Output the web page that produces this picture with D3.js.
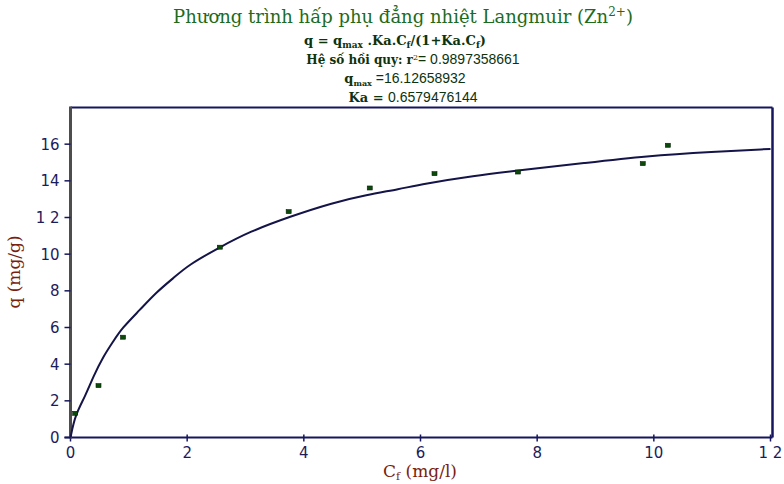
<!DOCTYPE html>
<html>
<head>
<meta charset="utf-8">
<script src="https://cdn.jsdelivr.net/npm/d3@7"></script>
<style>
  html, body { margin: 0; padding: 0; background: #fff; }
  svg { display: block; }
</style>
</head>
<body>
<svg id="chart" width="784" height="484"></svg>
<script>
// ---- data ----
const cfData = [0.08, 0.48, 0.90, 2.56, 3.74, 5.13, 6.24, 7.67, 9.81, 10.24];
const qData  = [1.32, 2.83, 5.47, 10.38, 12.32, 13.61, 14.39, 14.48, 14.94, 15.94];

const curveCf = [0.0, 0.08, 0.25, 0.39, 0.56, 0.73, 0.88, 1.19, 1.48, 1.76, 2.02, 2.56, 3.07, 3.76, 4.50, 5.07, 5.64, 6.04, 6.90, 7.75, 8.80, 9.87, 11.01, 12.00];
const curveQ  = [0.0, 1.23, 2.23, 3.32, 4.41, 5.23, 5.96, 6.96, 7.95, 8.68, 9.41, 10.38, 11.23, 12.05, 12.81, 13.23, 13.55, 13.83, 14.27, 14.59, 14.97, 15.36, 15.59, 15.74];

const xTicks = [0, 2, 4, 6, 8, 10, 12];
const xTickLabels = ["0", "2", "4", "6", "8", "10", "1 2"];
const yTicks = [0, 2, 4, 6, 8, 10, 12, 14, 16];
const yTickLabels = ["0", "2", "4", "6", "8", "10", "1 2", "14", "16"];

const svg = d3.select("#chart");
const x = d3.scaleLinear().domain([0, 12]).range([70.5, 770.5]);
const y = d3.scaleLinear().domain([0, 18]).range([437.5, 107.5]);

const navy = "#16165e";
const tickColor = "#1c1c5c";

// ---- titles ----
const serif = "'DejaVu Serif', 'Liberation Serif', serif";
const sans = "'Liberation Sans', Arial, sans-serif";
const green = "#1d6b1d";
const dark = "#0d330d";

svg.append("text").attr("x", 403).attr("y", 23).attr("text-anchor", "middle")
  .attr("font-family", serif).attr("font-size", 18).attr("fill", green)
  .html("Phương trình hấp phụ đẳng nhiệt Langmuir (Zn<tspan dy='-7' font-size='12'>2+</tspan><tspan dy='7'>)</tspan>");

const l2 = svg.append("text").attr("x", 395).attr("y", 45).attr("text-anchor", "middle")
  .attr("font-family", serif).attr("font-size", 13).attr("font-weight", "bold").attr("fill", dark);
l2.append("tspan").text("q = q");
l2.append("tspan").attr("font-size", 9).attr("dy", 3).text("max");
l2.append("tspan").attr("dy", -3).text(" .Ka.C");
l2.append("tspan").attr("font-size", 9).attr("dy", 3).text("f");
l2.append("tspan").attr("dy", -3).text("/(1+Ka.C");
l2.append("tspan").attr("font-size", 9).attr("dy", 3).text("f");
l2.append("tspan").attr("dy", -3).text(")");

const l3 = svg.append("text").attr("x", 413).attr("y", 64).attr("text-anchor", "middle")
  .attr("font-size", 14).attr("fill", dark);
l3.append("tspan").attr("font-family", serif).attr("font-weight", "bold").attr("font-size", 12).text("Hệ số hồi quy: r");
l3.append("tspan").attr("font-family", serif).attr("font-size", 8).attr("dy", -4).text("2");
l3.append("tspan").attr("font-family", sans).attr("dy", 4).text("=  0.9897358661");

const l4 = svg.append("text").attr("x", 405).attr("y", 83).attr("text-anchor", "middle")
  .attr("font-size", 14).attr("fill", dark);
l4.append("tspan").attr("font-family", serif).attr("font-weight", "bold").attr("font-size", 13).text("q");
l4.append("tspan").attr("font-family", serif).attr("font-weight", "bold").attr("font-size", 8).attr("dy", 3).text("max");
l4.append("tspan").attr("font-family", sans).attr("dy", -3).text(" =16.12658932");

const l5 = svg.append("text").attr("x", 413).attr("y", 102).attr("text-anchor", "middle")
  .attr("font-size", 14).attr("fill", dark);
l5.append("tspan").attr("font-family", serif).attr("font-weight", "bold").attr("font-size", 13).text("Ka = ");
l5.append("tspan").attr("font-family", sans).text(" 0.6579476144");

// ---- frame ----
svg.append("line").attr("x1", x(0)).attr("x2", x(12) + 2).attr("y1", y(18)).attr("y2", y(18))
  .attr("stroke", navy).attr("stroke-width", 2);
svg.append("line").attr("x1", x(12) + 2).attr("x2", x(12) + 2).attr("y1", y(18)).attr("y2", y(0))
  .attr("stroke", navy).attr("stroke-width", 2.5);

// ---- axes ----
const tickFont = "'DejaVu Sans', Verdana, sans-serif";
const gx = svg.append("g").attr("transform", `translate(0,${y(0)})`);
gx.append("line").attr("x1", x(0) - 6).attr("x2", x(12) + 2).attr("stroke", navy).attr("stroke-width", 2);
gx.selectAll("line.tk").data(xTicks).join("line").attr("class", "tk")
  .attr("x1", d => x(d)).attr("x2", d => x(d)).attr("y1", -3).attr("y2", 4)
  .attr("stroke", navy).attr("stroke-width", 1.5);
gx.selectAll("text").data(xTicks).join("text")
  .attr("x", d => x(d)).attr("y", 20).attr("text-anchor", "middle")
  .attr("font-family", tickFont).attr("font-size", 15)
  .attr("fill", tickColor).text((d, i) => xTickLabels[i]);

const gy = svg.append("g");
gy.append("line").attr("x1", x(0)).attr("x2", x(0)).attr("y1", y(18) - 1).attr("y2", y(0) + 1)
  .attr("stroke", "#4d4d4d").attr("stroke-width", 3);
gy.selectAll("line.tk").data(yTicks).join("line").attr("class", "tk")
  .attr("x1", x(0) - 6).attr("x2", x(0)).attr("y1", d => y(d)).attr("y2", d => y(d))
  .attr("stroke", navy).attr("stroke-width", 1.5);
gy.selectAll("text").data(yTicks).join("text")
  .attr("x", x(0) - 11).attr("y", d => y(d) + 5.5).attr("text-anchor", "end")
  .attr("font-family", tickFont).attr("font-size", 15)
  .attr("fill", tickColor).text((d, i) => yTickLabels[i]);

// ---- axis titles ----
const red = "#7a1e0e";
svg.append("text").attr("transform", "translate(20,272) rotate(-90)")
  .attr("text-anchor", "middle").attr("font-family", serif).attr("font-size", 17).attr("fill", red)
  .text("q (mg/g)");

const xl = svg.append("text").attr("x", 420).attr("y", 477).attr("text-anchor", "middle")
  .attr("font-family", serif).attr("font-size", 17).attr("fill", red);
xl.append("tspan").text("C");
xl.append("tspan").attr("font-size", 11).attr("dy", 3).text("f");
xl.append("tspan").attr("dy", -3).text(" (mg/l)");

// ---- fitted curve ----
const curvePts = curveCf.map((c, i) => [c, curveQ[i]]);
svg.append("path").datum(curvePts)
  .attr("d", d3.line().x(d => x(d[0])).y(d => y(d[1])).curve(d3.curveBasis))
  .attr("fill", "none").attr("stroke", "#141448").attr("stroke-width", 2);

// ---- data points ----
svg.selectAll("rect.pt").data(cfData.map((c, i) => [c, qData[i]])).join("rect").attr("class", "pt")
  .attr("x", d => x(d[0]) - 2.5).attr("y", d => y(d[1]) - 2)
  .attr("width", 5).attr("height", 4)
  .attr("fill", "#0c4a0c").attr("stroke", "#071f07").attr("stroke-width", 0.6);
</script>
</body>
</html>
